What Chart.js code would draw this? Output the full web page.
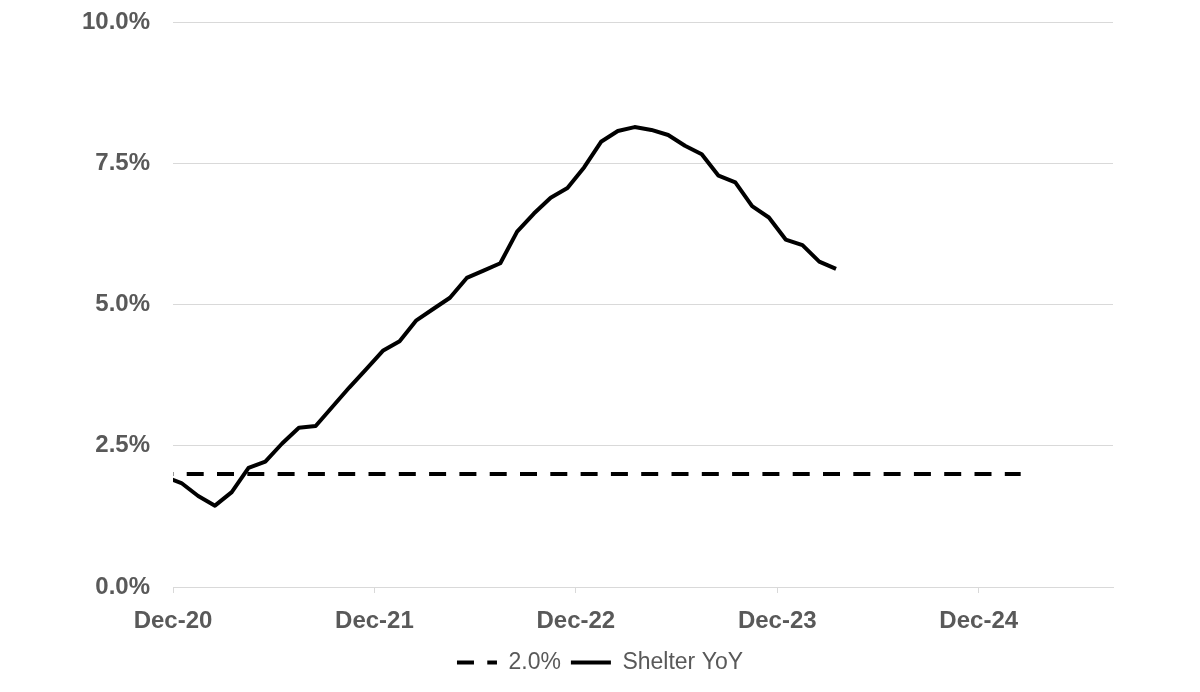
<!DOCTYPE html>
<html lang="en">
<head>
    <meta charset="UTF-8">
    <title>Shelter YoY</title>
    <script src="https://cdn.jsdelivr.net/npm/chart.js@4"></script>
    <style>
        body {
            margin: 0;
            padding: 0;
            background-color: white;
        }
        #chartBox {
            width: 1200px;
            height: 692px;
        }
    </style>
</head>
<body>
    <div id="chartBox">
        <canvas id="shelterChart" width="1200" height="692"></canvas>
    </div>
    <script>
        // monthly readings, first one sits just left of the axis and gets clipped
        const shelterMonths = [
            'Nov-20', 'Dec-20',
            'Jan-21', 'Feb-21', 'Mar-21', 'Apr-21', 'May-21', 'Jun-21',
            'Jul-21', 'Aug-21', 'Sep-21', 'Oct-21', 'Nov-21', 'Dec-21',
            'Jan-22', 'Feb-22', 'Mar-22', 'Apr-22', 'May-22', 'Jun-22',
            'Jul-22', 'Aug-22', 'Sep-22', 'Oct-22', 'Nov-22', 'Dec-22',
            'Jan-23', 'Feb-23', 'Mar-23', 'Apr-23', 'May-23', 'Jun-23',
            'Jul-23', 'Aug-23', 'Sep-23', 'Oct-23', 'Nov-23', 'Dec-23',
            'Jan-24', 'Feb-24', 'Mar-24'
        ];
        const shelterYoY = [
            1.95, 1.84,
            1.61, 1.44, 1.68, 2.11, 2.22, 2.54,
            2.82, 2.85, 3.19, 3.53, 3.85, 4.18,
            4.35, 4.72, 4.92, 5.12, 5.47, 5.60,
            5.73, 6.29, 6.61, 6.89, 7.06, 7.43,
            7.88, 8.07, 8.14, 8.09, 8.00, 7.81,
            7.66, 7.28, 7.16, 6.74, 6.54, 6.15,
            6.05, 5.76, 5.63
        ];

        const targetMonths = ['Nov-20', 'Feb-25'];
        const targetValues = [2.0, 2.0];

        const tickLabels = ['Dec-20', 'Dec-21', 'Dec-22', 'Dec-23', 'Dec-24'];
        const yTicks = [0, 2.5, 5, 7.5, 10];

        const monthNames = ['Jan','Feb','Mar','Apr','May','Jun','Jul','Aug','Sep','Oct','Nov','Dec'];
        const textGray = '#595959';
        const gridGray = '#d9d9d9';

        // months counted from Dec-20, points are drawn mid-month
        function monthIndex(label) {
            const parts = label.split('-');
            return (Number(parts[1]) - 20) * 12 + monthNames.indexOf(parts[0]) - 11;
        }
        function toPoints(labels, values) {
            return labels.map((m, i) => ({ x: monthIndex(m) + 0.5, y: values[i] }));
        }

        const tickValues = tickLabels.map(monthIndex);

        new Chart(document.getElementById('shelterChart'), {
            type: 'line',
            data: {
                datasets: [
                    {
                        label: '2.0%',
                        data: toPoints(targetMonths, targetValues),
                        borderColor: '#000000',
                        borderWidth: 4,
                        borderDash: [17, 13.3],
                        borderDashOffset: 8.2,
                        pointRadius: 0,
                        pointStyle: 'line',
                        clip: 0
                    },
                    {
                        label: 'Shelter YoY',
                        data: toPoints(shelterMonths, shelterYoY),
                        borderColor: '#000000',
                        borderWidth: 4,
                        borderJoinStyle: 'round',
                        pointRadius: 0,
                        pointStyle: 'line',
                        tension: 0,
                        clip: 0
                    }
                ]
            },
            options: {
                responsive: false,
                animation: false,
                layout: {
                    padding: { top: 22, right: 0, bottom: 8, left: 0 }
                },
                plugins: {
                    tooltip: { enabled: false },
                    legend: {
                        position: 'bottom',
                        labels: {
                            usePointStyle: true,
                            pointStyleWidth: 40,
                            padding: 10,
                            color: textGray,
                            font: { family: 'Liberation Sans', size: 23 },
                            generateLabels: (chart) => {
                                const items = Chart.defaults.plugins.legend.labels.generateLabels(chart);
                                items.forEach(it => {
                                    const ds = chart.data.datasets[it.datasetIndex];
                                    it.lineDash = ds.borderDash || [];
                                    it.lineDashOffset = 0;
                                    it.lineWidth = ds.borderWidth;
                                    it.strokeStyle = ds.borderColor;
                                });
                                return items;
                            }
                        }
                    }
                },
                scales: {
                    x: {
                        type: 'linear',
                        min: 0,
                        max: 56,
                        afterBuildTicks: (axis) => {
                            axis.ticks = tickValues.map(v => ({ value: v }));
                        },
                        afterFit: (axis) => { axis.height = 54; },
                        grid: {
                            drawOnChartArea: false,
                            drawTicks: true,
                            tickLength: 6,
                            color: gridGray
                        },
                        border: { color: gridGray, width: 1 },
                        ticks: {
                            padding: 14,
                            maxRotation: 0,
                            autoSkip: false,
                            color: textGray,
                            font: { family: 'Liberation Sans', size: 24, weight: 'bold' },
                            callback: (value) => tickLabels[tickValues.indexOf(value)]
                        }
                    },
                    y: {
                        min: 0,
                        max: 10,
                        afterBuildTicks: (axis) => {
                            axis.ticks = yTicks.map(v => ({ value: v }));
                        },
                        afterFit: (axis) => {
                            axis.width = 173;
                            axis.paddingTop = 0;
                            axis.paddingBottom = 0;
                        },
                        grid: {
                            color: gridGray,
                            drawTicks: false
                        },
                        border: { display: false },
                        ticks: {
                            padding: 23,
                            color: textGray,
                            font: { family: 'Liberation Sans', size: 24, weight: 'bold' },
                            callback: (value) => value.toFixed(1) + '%'
                        }
                    },
                    // empty box on the right so the plot ends where the original does
                    spacer: {
                        position: 'right',
                        display: true,
                        afterFit: (axis) => { axis.width = 87; },
                        grid: { display: false },
                        border: { display: false },
                        ticks: { display: false }
                    }
                }
            }
        });
    </script>
</body>
</html>
